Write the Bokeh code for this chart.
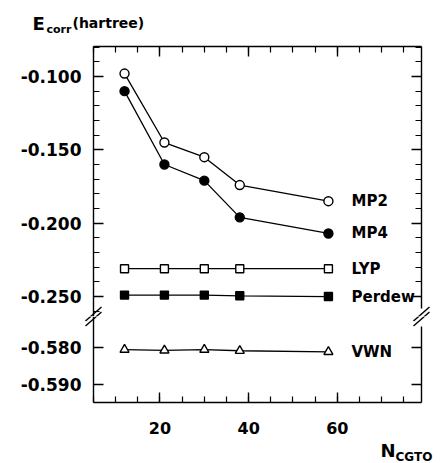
from bokeh.plotting import figure
from bokeh.layouts import column
from bokeh.models import (LinearAxis, SingleIntervalTicker, PrintfTickFormatter,
                          CustomJSTickFormatter, ColumnDataSource, Range1d)
from bokeh.core.properties import value
from bokeh.embed import file_html
from bokeh.resources import INLINE

# ---------------- data ----------------
n_cgto = [12, 21, 30, 38, 58]
mp2 = [-0.098, -0.145, -0.155, -0.174, -0.185]
mp4 = [-0.110, -0.160, -0.171, -0.196, -0.207]
lyp = [-0.231, -0.231, -0.231, -0.231, -0.231]
perdew = [-0.249, -0.249, -0.249, -0.2495, -0.250]
vwn = [-0.5805, -0.5807, -0.5805, -0.5808, -0.5811]
series_names = ["MP2", "MP4", "LYP", "Perdew", "VWN"]
x_title = ["N", "CGTO"]
y_title = ["E", "corr", "(hartree)"]

FONT = "DejaVu Sans"
W, H = 445, 463
SPLIT = 316                      # canvas row where the axis break sits

# box geometry (pixels) and data extents
BOX_L, BOX_R = 93, 421
BOX_T, BOX_B = 46, 402
X0, X1 = 5, 79
UP_REF_V, UP_REF_PX, UP_SCALE = -0.100, 76.0, 1467.0   # upper panel: value at px, px/unit
LO_REF_V, LO_REF_PX, LO_SCALE = -0.580, 347.3, 3670.0  # lower panel


def px2x(px):
    return X0 + (px - BOX_L) * (X1 - X0) / (BOX_R - BOX_L)


def pyU(py):
    return UP_REF_V - (py - UP_REF_PX) / UP_SCALE


def pyL(py):
    return LO_REF_V - (py - LO_REF_PX) / LO_SCALE


def style_axis(ax, labels=True, size="17px", standoff=12):
    ax.axis_line_width = 1.4
    ax.major_tick_line_width = 1.4
    ax.minor_tick_line_width = 1.2
    ax.major_tick_in = 10
    ax.major_tick_out = 0
    ax.minor_tick_in = 6
    ax.minor_tick_out = 0
    ax.major_label_text_font = FONT
    ax.major_label_text_font_style = "bold"
    ax.major_label_text_color = "black"
    ax.major_label_text_font_size = size
    ax.major_label_standoff = standoff
    if not labels:
        ax.formatter = CustomJSTickFormatter(code="return ''")
        ax.major_label_standoff = 0


def make_fig(height, y0, y1, xr):
    f = figure(width=W, height=height, x_range=xr, y_range=Range1d(y0, y1),
               output_backend="svg", toolbar_location=None,
               x_axis_location=None, y_axis_location=None,
               min_border=0, min_border_left=0, min_border_right=0,
               min_border_top=0, min_border_bottom=0)
    f.outline_line_color = None
    for g in f.grid:
        g.visible = False
    return f


xr = Range1d(px2x(0), px2x(W))
src = ColumnDataSource(dict(x=n_cgto, mp2=mp2, mp4=mp4, lyp=lyp, perdew=perdew, vwn=vwn))
LW = 1.3
lab_x = 63.2

# ---------------- upper panel ----------------
p1 = make_fig(SPLIT, pyU(SPLIT), pyU(0), xr)
top_v = pyU(BOX_T)

ax_l1 = LinearAxis(fixed_location=X0, bounds=(pyU(SPLIT), top_v),
                   ticker=SingleIntervalTicker(interval=0.05, num_minor_ticks=5),
                   formatter=PrintfTickFormatter(format="%.3f"))
style_axis(ax_l1, labels=True, size="17px", standoff=12)
p1.add_layout(ax_l1, "left")

ax_r1 = LinearAxis(fixed_location=X1, bounds=(pyU(308), top_v),
                   ticker=SingleIntervalTicker(interval=0.05, num_minor_ticks=5))
style_axis(ax_r1, labels=False)
p1.add_layout(ax_r1, "right")

ax_t1 = LinearAxis(fixed_location=top_v, bounds=(X0, X1),
                   ticker=SingleIntervalTicker(interval=20, num_minor_ticks=4))
style_axis(ax_t1, labels=False)
p1.add_layout(ax_t1, "above")

p1.line("x", "mp2", source=src, color="black", line_width=LW)
p1.scatter("x", "mp2", source=src, marker="circle", size=9, fill_color="white",
           line_color="black", line_width=1.4)
p1.line("x", "mp4", source=src, color="black", line_width=LW)
p1.scatter("x", "mp4", source=src, marker="circle", size=9, fill_color="black",
           line_color="black", line_width=1.4)
p1.line("x", "lyp", source=src, color="black", line_width=LW)
p1.scatter("x", "lyp", source=src, marker="square", size=8, fill_color="white",
           line_color="black", line_width=1.4)
p1.line("x", "perdew", source=src, color="black", line_width=LW)
p1.scatter("x", "perdew", source=src, marker="square", size=8, fill_color="black",
           line_color="black", line_width=1.4)

up_lab = ColumnDataSource(dict(x=[lab_x] * 4,
                               y=[mp2[-1], mp4[-1], lyp[-1], perdew[-1]],
                               t=series_names[:4]))
p1.text("x", "y", "t", source=up_lab, text_font=value(FONT), text_font_style="bold",
        text_font_size="15px", text_baseline="middle", text_align="left", color="black")

# y title: E_corr (hartree)
p1.text(x=[px2x(32)], y=[pyU(23)], text=[y_title[0]], text_font=value(FONT),
        text_font_style="bold", text_font_size="18px", text_baseline="alphabetic",
        color="black")
p1.text(x=[px2x(46)], y=[pyU(29)], text=[y_title[1]], text_font=value(FONT),
        text_font_style="bold", text_font_size="11px", text_baseline="alphabetic",
        color="black")
p1.text(x=[px2x(72)], y=[pyU(22)], text=[y_title[2]], text_font=value(FONT),
        text_font_style="bold", text_font_size="14px", text_baseline="alphabetic",
        color="black")

# ---------------- lower panel ----------------
p2 = make_fig(H - SPLIT, pyL(H), pyL(SPLIT), xr)
bot_v = pyL(BOX_B)

ax_l2 = LinearAxis(fixed_location=X0, bounds=(bot_v, pyL(SPLIT)),
                   ticker=SingleIntervalTicker(interval=0.01, num_minor_ticks=0),
                   formatter=PrintfTickFormatter(format="%.3f"))
style_axis(ax_l2, labels=True, size="17px", standoff=12)
p2.add_layout(ax_l2, "left")

ax_r2 = LinearAxis(fixed_location=X1, bounds=(bot_v, pyL(326)),
                   ticker=SingleIntervalTicker(interval=0.01, num_minor_ticks=0))
style_axis(ax_r2, labels=False)
p2.add_layout(ax_r2, "right")

ax_b2 = LinearAxis(fixed_location=bot_v, bounds=(X0, X1),
                   ticker=SingleIntervalTicker(interval=20, num_minor_ticks=4))
style_axis(ax_b2, labels=True, size="16px", standoff=19)
p2.add_layout(ax_b2, "below")

p2.line("x", "vwn", source=src, color="black", line_width=LW)
p2.scatter("x", "vwn", source=src, marker="triangle", size=9, fill_color="white",
           line_color="black", line_width=1.4)
p2.text(x=[lab_x], y=[vwn[-1]], text=[series_names[4]], text_font=value(FONT),
        text_font_style="bold", text_font_size="15px", text_baseline="middle",
        text_align="left", color="black")

# x title: N_CGTO
p2.text(x=[px2x(380)], y=[pyL(450)], text=[x_title[0]], text_font=value(FONT),
        text_font_style="bold", text_font_size="18px", text_baseline="alphabetic",
        color="black")
p2.text(x=[px2x(395)], y=[pyL(456)], text=[x_title[1]], text_font=value(FONT),
        text_font_style="bold", text_font_size="12px", text_baseline="alphabetic",
        color="black")

# ---------------- axis-break marks "//" (drawn in both panels, each clipped) ----------
for fig, conv in ((p1, pyU), (p2, pyL)):
    x0s, y0s, x1s, y1s = [], [], [], []
    for cx in (BOX_L, BOX_R):
        for cy in (SPLIT - 2.5, SPLIT + 2.5):
            x0s.append(px2x(cx - 8))
            y0s.append(conv(cy + 7))
            x1s.append(px2x(cx + 8))
            y1s.append(conv(cy - 7))
    fig.segment(x0=x0s, y0=y0s, x1=x1s, y1=y1s, line_color="black", line_width=1.4)

layout = column(p1, p2, spacing=0)
open("out.html", "w").write(file_html(layout, INLINE))
